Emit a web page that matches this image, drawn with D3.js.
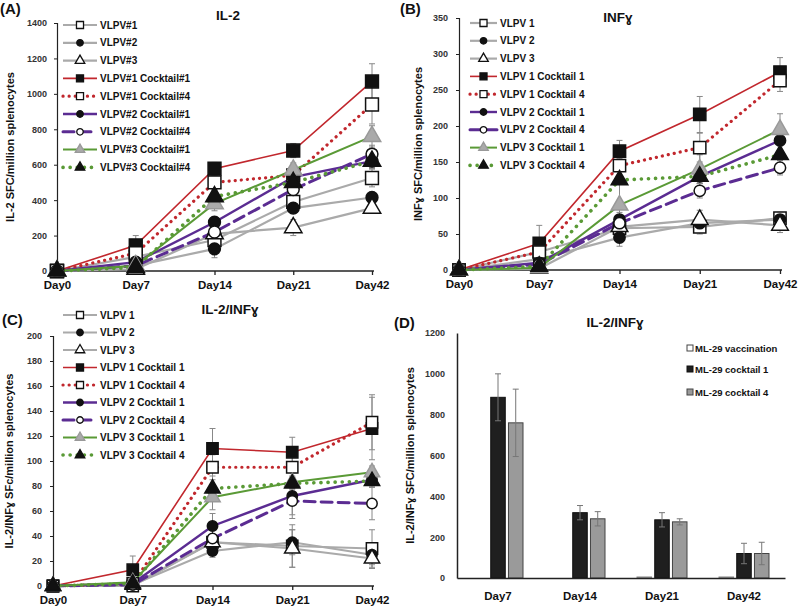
<html>
<head>
<meta charset="utf8">
<style>
body { margin: 0; background: #fff; }
text { font-family: "Liberation Sans", Arial, sans-serif; font-weight: bold; }
</style>
</head>
<body>
<div id="canvas"></div>
<script src="https://cdn.jsdelivr.net/npm/d3@7"></script>
<script>

// ---- data ----
const days = ["Day0", "Day7", "Day14", "Day21", "Day42"];
const namesA = ["VLPV#1", "VLPV#2", "VLPV#3", "VLPV#1 Cocktail#1", "VLPV#1 Cocktail#4",
    "VLPV#2 Cocktail#1", "VLPV#2 Cocktail#4", "VLPV#3 Cocktail#1", "VLPV#3 Cocktail#4"];
const namesBC = ["VLPV 1", "VLPV 2", "VLPV 3", "VLPV 1 Cocktail 1", "VLPV 1 Cocktail 4",
    "VLPV 2 Cocktail 1", "VLPV 2 Cocktail 4", "VLPV 3 Cocktail 1", "VLPV 3 Cocktail 4"];

// IL-2 (A)
const il2Means = [
    [0, 80, 175, 390, 525],
    [0, 30, 125, 355, 415],
    [0, 10, 210, 245, 355],
    [0, 145, 578, 680, 1070],
    [0, 100, 500, 540, 940],
    [0, 50, 275, 530, 620],
    [0, 30, 220, 460, 660],
    [0, 30, 380, 570, 760],
    [0, 20, 420, 500, 620]
];
const il2Errors = [
    [0, 20, 40, 40, 50],
    [0, 15, 50, 30, 30],
    [0, 10, 30, 45, 30],
    [0, 55, 35, 40, 100],
    [0, 30, 40, 40, 110],
    [0, 15, 30, 40, 40],
    [0, 15, 30, 40, 50],
    [0, 10, 40, 40, 60],
    [0, 10, 35, 40, 40]
];

// INFy (B)
const infMeans = [
    [0, 25, 58, 60, 72],
    [0, 15, 45, 65, 70],
    [0, 2, 60, 70, 62],
    [0, 37, 165, 216, 275],
    [0, 25, 145, 170, 263],
    [0, 10, 70, 130, 180],
    [0, 8, 65, 110, 142],
    [0, 3, 90, 140, 195],
    [0, 5, 125, 130, 160]
];
const infErrors = [
    [0, 8, 12, 10, 8],
    [0, 5, 12, 10, 8],
    [0, 3, 10, 13, 10],
    [0, 25, 15, 25, 20],
    [0, 10, 15, 20, 15],
    [0, 5, 10, 10, 15],
    [0, 5, 10, 10, 10],
    [0, 3, 40, 20, 22],
    [0, 3, 30, 15, 15]
];

// IL-2/INFy (C)
const dualMeans = [
    [0, 0, 35, 32, 30],
    [0, 1, 28, 35, 25],
    [0, 1, 35, 30, 22],
    [0, 13, 110, 107, 126],
    [0, 2, 95, 95, 131],
    [0, 2, 48, 72, 85],
    [0, 1, 38, 68, 66],
    [0, 3, 71, 83, 91],
    [0, 2, 78, 82, 84]
];
const dualErrors = [
    [0, 3, 5, 17, 15],
    [0, 2, 5, 10, 8],
    [0, 2, 5, 15, 8],
    [0, 11, 16, 12, 25],
    [0, 5, 10, 10, 22],
    [0, 3, 10, 15, 5],
    [0, 3, 10, 14, 13],
    [0, 3, 10, 5, 5],
    [0, 3, 10, 5, 5]
];

// ML-29 bars (D)
const barDays = ["Day7", "Day14", "Day21", "Day42"];
const barNames = ["ML-29 vaccination", "ML-29 cocktail 1", "ML-29 cocktail 4"];
const barMeans = [
    [0, 0, 5, 5],
    [885, 320, 285, 120],
    [760, 290, 275, 120]
];
const barErrors = [
    [0, 0, 0, 0],
    [115, 35, 35, 50],
    [165, 35, 15, 55]
];

// ---- styles ----
const RED = "#c1272d", PURPLE = "#5b2c92", GREEN = "#5a9a36", GRAY = "#aaaaaa";
const styles = [
    {color: GRAY, width: 2.2, dash: null, sym: d3.symbolSquare, fill: "#fff", stroke: "#111"},
    {color: GRAY, width: 2.2, dash: null, sym: d3.symbolCircle, fill: "#111", stroke: "#111"},
    {color: GRAY, width: 2.2, dash: null, sym: d3.symbolTriangle, fill: "#fff", stroke: "#111"},
    {color: RED, width: 1.6, dash: null, sym: d3.symbolSquare, fill: "#111", stroke: "#111"},
    {color: RED, width: 3.2, dash: "0.1 6", sym: d3.symbolSquare, fill: "#fff", stroke: "#111"},
    {color: PURPLE, width: 2.4, dash: null, sym: d3.symbolCircle, fill: "#111", stroke: "#111"},
    {color: PURPLE, width: 3, dash: "11 6", sym: d3.symbolCircle, fill: "#fff", stroke: "#111"},
    {color: GREEN, width: 2, dash: null, sym: d3.symbolTriangle, fill: "#aaa", stroke: "#999"},
    {color: GREEN, width: 3.6, dash: "0.1 7", sym: d3.symbolTriangle, fill: "#111", stroke: "#111"}
];
const symSize = {square: 150, circle: 100, triangle: 120};
function sizeOf(sym, k) {
    const s = sym === d3.symbolSquare ? symSize.square : sym === d3.symbolCircle ? symSize.circle : symSize.triangle;
    return s * k;
}
const fmt = d3.format("d");

const svg = d3.select("#canvas").append("svg")
    .attr("width", 800)
    .attr("height", 613)
    .attr("viewBox", "0 0 800 613");

function drawLinePanel(p) {
    const g = svg.append("g");
    const x = d3.scalePoint().domain(days).range([p.x0, p.x1]);
    const y = d3.scaleLinear().domain([0, p.max]).range([p.y0, p.y1]);

    // y axis
    const ya = g.append("g")
        .attr("transform", `translate(${p.x0},0)`)
        .call(d3.axisLeft(y).tickValues(d3.range(0, p.max + 1, p.step)).tickFormat(fmt)
            .tickSize(3).tickPadding(p.pad));
    ya.select(".domain").attr("stroke", "#222").attr("stroke-width", 1.2);
    ya.selectAll(".tick line").attr("stroke", "#222");
    ya.selectAll(".tick text").attr("font-size", 9).attr("fill", "#333")
        .style("font-family", "'Liberation Sans', Arial, sans-serif").style("font-weight", "bold");

    // x axis
    const xa = g.append("g")
        .attr("transform", `translate(0,${p.y0})`)
        .call(d3.axisBottom(x).tickSize(4).tickPadding(6).tickSizeOuter(0));
    xa.select(".domain").attr("stroke", "#222").attr("stroke-width", 1.5)
        .attr("d", `M${p.x0},0H${p.x1 + 2}`);
    xa.selectAll(".tick line").attr("stroke", "#222").attr("stroke-width", 1.3);
    xa.selectAll(".tick text").attr("font-size", 11.5).attr("fill", "#111")
        .style("font-family", "'Liberation Sans', Arial, sans-serif").style("font-weight", "bold");

    // error bars
    p.means.forEach((row, i) => {
        row.forEach((v, j) => {
            const e = p.errors[i][j];
            if (!e) return;
            const cx = x(days[j]);
            g.append("line").attr("x1", cx).attr("x2", cx)
                .attr("y1", y(Math.max(0, v - e))).attr("y2", y(v + e))
                .attr("stroke", "#888").attr("stroke-width", 1);
            [v - e, v + e].forEach(t => {
                if (t < 0) return;
                g.append("line").attr("x1", cx - 3).attr("x2", cx + 3)
                    .attr("y1", y(t)).attr("y2", y(t))
                    .attr("stroke", "#888").attr("stroke-width", 1);
            });
        });
    });

    const line = d3.line().x((d, j) => x(days[j])).y(d => y(d));
    p.means.forEach((row, i) => {
        const s = styles[i];
        g.append("path").datum(row)
            .attr("fill", "none")
            .attr("stroke", s.color)
            .attr("stroke-width", s.width)
            .attr("stroke-linecap", s.dash ? "round" : "butt")
            .attr("stroke-dasharray", s.dash)
            .attr("d", line);
    });
    p.means.forEach((row, i) => {
        const s = styles[i];
        g.selectAll(null).data(row).enter().append("path")
            .attr("transform", (d, j) => `translate(${x(days[j])},${y(d)})`)
            .attr("d", d3.symbol().type(s.sym).size(sizeOf(s.sym, p.mk)))
            .attr("fill", s.fill)
            .attr("stroke", s.stroke)
            .attr("stroke-width", 1.5);
    });

    // legend
    const lg = g.append("g");
    p.names.forEach((name, i) => {
        const s = styles[i];
        const ly = p.ly + i * p.lstep;
        lg.append("line").attr("x1", p.lx0).attr("x2", p.lx1).attr("y1", ly).attr("y2", ly)
            .attr("stroke", s.color).attr("stroke-width", s.width)
            .attr("stroke-linecap", s.dash ? "round" : "butt")
            .attr("stroke-dasharray", s.dash);
        lg.append("path")
            .attr("transform", `translate(${(p.lx0 + p.lx1) / 2},${ly})`)
            .attr("d", d3.symbol().type(s.sym).size(sizeOf(s.sym, 0.33)))
            .attr("fill", s.fill).attr("stroke", s.stroke).attr("stroke-width", 1.3);
        lg.append("text").attr("x", p.lx1 + 3).attr("y", ly + 3.5)
            .attr("font-size", 10).attr("fill", "#111").text(name);
    });

    // title, letter, y label
    g.append("text").attr("x", p.tx).attr("y", p.ty).attr("text-anchor", "middle")
        .attr("font-size", 13.5).attr("fill", "#111").text(p.title);
    g.append("text").attr("x", p.cx).attr("y", p.cy)
        .attr("font-size", 15).attr("fill", "#111").text(p.letter);
    g.append("text")
        .attr("transform", `translate(${p.yl},${(p.y0 + p.y1) / 2}) rotate(-90)`)
        .attr("text-anchor", "middle").attr("font-size", 11).attr("fill", "#111").text(p.ylabel);
}

drawLinePanel({
    means: il2Means, errors: il2Errors, names: namesA,
    x0: 57, x1: 372, y0: 271, y1: 23, max: 1400, step: 200, pad: 7, mk: 1.1,
    lx0: 63, lx1: 97, ly: 25, lstep: 17.8,
    title: "IL-2", tx: 228, ty: 20, letter: "(A)", cx: 0, cy: 14,
    ylabel: "IL-2 SFC/million splenocytes", yl: 14
});

drawLinePanel({
    means: infMeans, errors: infErrors, names: namesBC,
    x0: 459, x1: 780, y0: 270, y1: 18, max: 350, step: 50, pad: 8, mk: 1.0,
    lx0: 470, lx1: 497, ly: 23, lstep: 17.8,
    title: "INFɣ", tx: 618, ty: 22, letter: "(B)", cx: 400, cy: 14,
    ylabel: "INFɣ SFC/million splenocytes", yl: 422
});

drawLinePanel({
    means: dualMeans, errors: dualErrors, names: namesBC,
    x0: 53, x1: 372, y0: 586, y1: 336, max: 200, step: 20, pad: 8, mk: 0.85,
    lx0: 63, lx1: 97, ly: 315, lstep: 17.5,
    title: "IL-2/INFɣ", tx: 230, ty: 314, letter: "(C)", cx: 2, cy: 325,
    ylabel: "IL-2/INFɣ SFc/million splenocytes", yl: 13
});

// ---- panel D: bars ----
(function () {
    const g = svg.append("g");
    const x0 = 457, x1 = 785, yb = 578, yt = 333;
    const x = d3.scaleBand().domain(barDays).range([x0, x1]);
    const xi = d3.scaleBand().domain(d3.range(barNames.length))
        .range([x.bandwidth() / 2 - 25, x.bandwidth() / 2 + 25]).paddingInner(0.18);
    const y = d3.scaleLinear().domain([0, 1200]).range([yb, yt]);
    const fills = ["#fff", "#1f1f1f", "#9a9a9a"];
    const strokes = ["#888", "#111", "#444"];

    const ya = g.append("g").attr("transform", `translate(${x0},0)`)
        .call(d3.axisLeft(y).tickValues(d3.range(0, 1201, 200)).tickFormat(fmt).tickSize(0).tickPadding(12));
    ya.select(".domain").attr("stroke", "#222").attr("stroke-width", 1.5);
    ya.selectAll(".tick text").attr("font-size", 9).attr("fill", "#333")
        .style("font-family", "'Liberation Sans', Arial, sans-serif").style("font-weight", "bold");

    barMeans.forEach((row, k) => {
        row.forEach((v, j) => {
            const bx = x(barDays[j]) + xi(k);
            g.append("rect").attr("x", bx).attr("y", y(v))
                .attr("width", xi.bandwidth()).attr("height", yb - y(v))
                .attr("fill", fills[k]).attr("stroke", strokes[k]).attr("stroke-width", 1);
            const e = barErrors[k][j];
            if (e) {
                const cx = bx + xi.bandwidth() / 2;
                g.append("line").attr("x1", cx).attr("x2", cx).attr("y1", y(v - e)).attr("y2", y(v + e))
                    .attr("stroke", "#777").attr("stroke-width", 1);
                [v - e, v + e].forEach(t => g.append("line")
                    .attr("x1", cx - 3).attr("x2", cx + 3).attr("y1", y(t)).attr("y2", y(t))
                    .attr("stroke", "#777").attr("stroke-width", 1));
            }
        });
    });

    const xa = g.append("g").attr("transform", `translate(0,${yb})`)
        .call(d3.axisBottom(x).tickSize(0).tickPadding(14).tickSizeOuter(0));
    xa.select(".domain").attr("stroke", "#222").attr("stroke-width", 1.5);
    xa.selectAll(".tick text").attr("font-size", 11.5).attr("fill", "#111")
        .style("font-family", "'Liberation Sans', Arial, sans-serif").style("font-weight", "bold");

    const legY = [352, 373, 396];
    barNames.forEach((name, k) => {
        g.append("rect").attr("x", 687).attr("y", legY[k] - 7).attr("width", 6).attr("height", 6)
            .attr("fill", fills[k]).attr("stroke", k === 0 ? "#444" : strokes[k]);
        g.append("text").attr("x", 695).attr("y", legY[k]).attr("font-size", 9.5)
            .attr("fill", "#111").text(name);
    });

    g.append("text").attr("x", 615).attr("y", 327).attr("text-anchor", "middle")
        .attr("font-size", 13.5).attr("fill", "#111").text("IL-2/INFɣ");
    g.append("text").attr("x", 394).attr("y", 328).attr("font-size", 15).attr("fill", "#111").text("(D)");
    g.append("text")
        .attr("transform", `translate(414,${(yb + yt) / 2}) rotate(-90)`)
        .attr("text-anchor", "middle").attr("font-size", 11).attr("fill", "#111")
        .text("IL-2/INFɣ SFC/million splenocytes");
})();
</script>
</body>
</html>
